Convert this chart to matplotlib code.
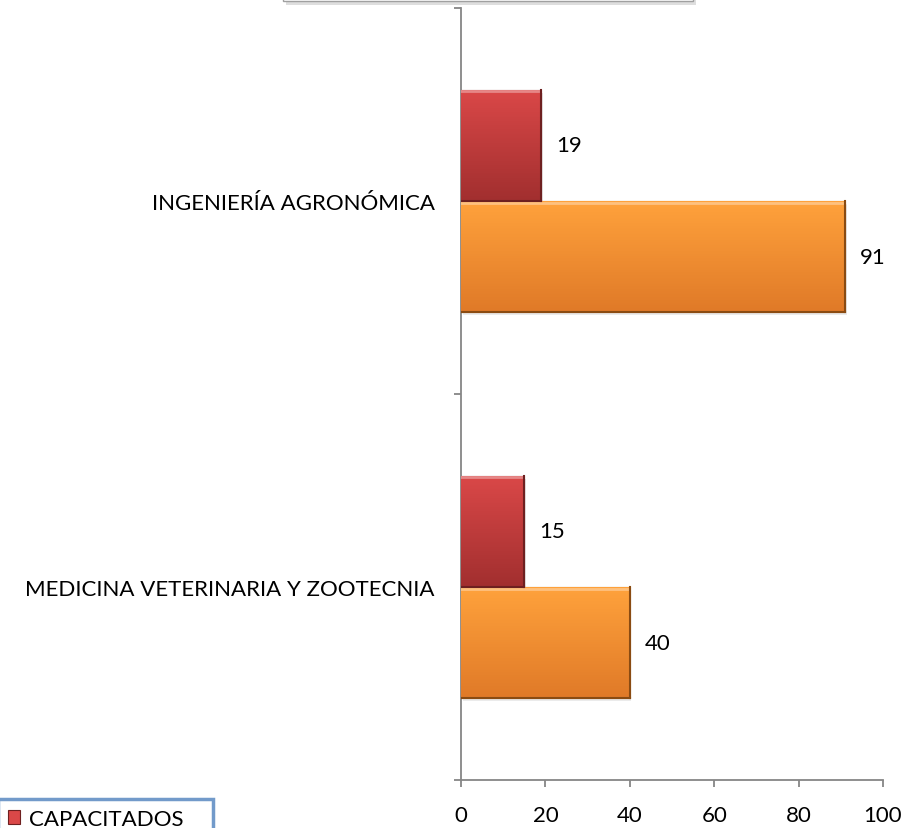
import numpy as np
import matplotlib.pyplot as plt
from matplotlib.patches import Rectangle
from matplotlib.colors import LinearSegmentedColormap

# data
categories = ['MEDICINA VETERINARIA Y ZOOTECNIA', 'INGENIERÍA AGRONÓMICA']
capacitados = [15, 19]
otros = [40, 91]
series_labels = ['CAPACITADOS', 'TOTAL']
x_ticks = [0, 20, 40, 60, 80, 100]

plt.rcParams['font.family'] = ['Lato', 'DejaVu Sans']
FS = 16

RED_TOP, RED_BOT, RED_EDGE = '#DA4848', '#A22F2F', '#6E2020'
ORG_TOP, ORG_BOT, ORG_EDGE = '#FFA23C', '#E07A28', '#8A4B12'

fig = plt.figure(figsize=(9.08, 8.29), dpi=100)
ax = fig.add_axes([461 / 908, 1 - 781 / 829, 422 / 908, 772 / 829])

y = np.arange(len(categories))
h = 0.288

bars_red = ax.barh(y + h / 2, capacitados, height=h, color=RED_TOP,
                   edgecolor=RED_EDGE, linewidth=0.8, label=series_labels[0], zorder=3)
bars_org = ax.barh(y - h / 2, otros, height=h, color=ORG_TOP,
                   edgecolor=ORG_EDGE, linewidth=0.8, label=series_labels[1], zorder=3)


def shade(bars, top, bot):
    # vertical gradient clipped to each bar, plus a soft shadow
    cmap = LinearSegmentedColormap.from_list('g', [top, bot])
    grad = np.linspace(0, 1, 64).reshape(-1, 1)
    for b in bars:
        x0, y0 = b.get_x(), b.get_y()
        w, hh = b.get_width(), b.get_height()
        im = ax.imshow(grad, cmap=cmap, aspect='auto', origin='upper',
                       extent=(x0, x0 + w, y0, y0 + hh), zorder=3.5)
        im.set_clip_path(b)
        ax.add_patch(Rectangle((x0 + 0.4, y0 - 0.008), w, hh, color='#000000',
                               alpha=0.08, lw=0, zorder=2.5))
        # bevel highlights
        ax.plot([x0, x0 + w], [y0 + hh * 0.985] * 2, color='white', alpha=0.35, lw=2, zorder=3.6)
        ax.plot([x0 + w] * 2, [y0, y0 + hh], color=b.get_edgecolor(), lw=1.5, zorder=3.7)
        ax.plot([x0, x0 + w], [y0, y0], color=b.get_edgecolor(), lw=1.5, zorder=3.7)


shade(bars_red, RED_TOP, RED_BOT)
shade(bars_org, ORG_TOP, ORG_BOT)

for bars, vals in ((bars_red, capacitados), (bars_org, otros)):
    for b, v in zip(bars, vals):
        ax.annotate(str(v), (b.get_width(), b.get_y() + b.get_height() / 2),
                    xytext=(11, 0), textcoords='offset points',
                    va='center', ha='left', fontsize=FS, color='#000000')

ax.set_xlim(0, 100)
ax.set_ylim(-0.5, len(categories) - 0.5)
ax.set_xticks(x_ticks)
ax.set_xticklabels([str(t) for t in x_ticks])
ax.set_yticks(y)
ax.set_yticklabels(categories)
ax.set_yticks(np.arange(len(categories) + 1) - 0.5, minor=True)

for s in ('top', 'right'):
    ax.spines[s].set_visible(False)
for s in ('left', 'bottom'):
    ax.spines[s].set_color('#868686')
    ax.spines[s].set_linewidth(1.3)

ax.tick_params(axis='x', length=5, width=1.3, color='#868686', pad=13, labelsize=FS)
ax.tick_params(axis='y', which='major', length=0, pad=19, labelsize=FS)
ax.tick_params(axis='y', which='minor', length=5, width=1.3, color='#868686')

# legend box, partly off the bottom edge
leg_top = 1 - 800 / 829
leg = fig.legend(handles=[bars_red], labels=[series_labels[0]], loc='upper left',
                 bbox_to_anchor=(-2 / 908, leg_top - 0.1, 215 / 908, 0.1), mode='expand',
                 frameon=True, fontsize=FS,
                 handlelength=0.55, handleheight=0.55, handletextpad=0.4,
                 borderaxespad=0, fancybox=False, borderpad=0.45)
leg.get_frame().set_edgecolor('#4F81BD')
leg.get_frame().set_linewidth(2.5)

# title box, mostly off the top edge
fig.patches.append(Rectangle((286 / 908, 1 - 6 / 829), 410 / 908, 0.1, transform=fig.transFigure,
                             facecolor='#C8C8C8', edgecolor='none', alpha=0.6, zorder=0))
fig.patches.append(Rectangle((283 / 908, 1 - 2 / 829), 410 / 908, 0.1, transform=fig.transFigure,
                             facecolor='white', edgecolor='#A0A0A0', lw=1, zorder=1))

fig.savefig('out.png', dpi=100)
